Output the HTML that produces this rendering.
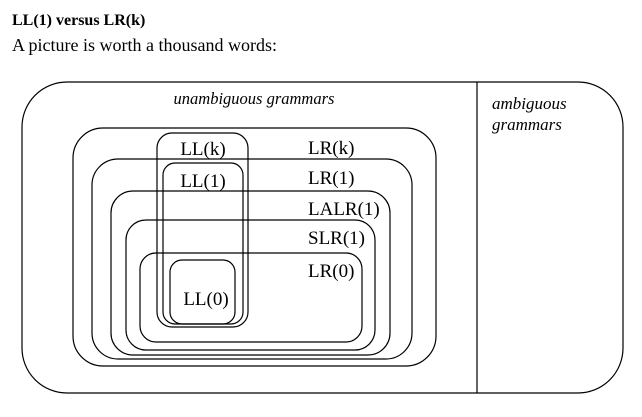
<!DOCTYPE html>
<html><head><meta charset="utf-8"><style>
body{margin:0;background:#fff;width:642px;height:417px;overflow:hidden;font-family:"Liberation Serif",serif;}
</style></head><body>
<svg width="642" height="417" xmlns="http://www.w3.org/2000/svg" style="position:absolute;left:0;top:0">
<text x="12" y="25" font-size="16" font-weight="bold" font-family="Liberation Serif, serif">LL(1) versus LR(k)</text>
<text x="12" y="51" font-size="18" font-family="Liberation Serif, serif">A picture is worth a thousand words:</text>
<g fill="none" stroke="#000" stroke-width="1.2">
<rect x="22" y="82" width="601" height="311" rx="45"/>
<line x1="477" y1="82" x2="477" y2="393"/>
<rect x="73" y="128" width="363" height="238" rx="30"/>
<rect x="92" y="159" width="320" height="200" rx="26"/>
<rect x="111" y="191" width="279" height="164" rx="22"/>
<rect x="126" y="220" width="249" height="130" rx="20"/>
<rect x="140" y="253" width="222" height="89" rx="16"/>
<rect x="157" y="133" width="91" height="194" rx="15"/>
<rect x="163" y="163" width="80" height="161" rx="12"/>
<rect x="170" y="260" width="65" height="64" rx="12"/>
</g>
<g font-family="Liberation Serif, serif" font-size="19">
<text x="203" y="155" text-anchor="middle">LL(k)</text>
<text x="203" y="187" text-anchor="middle">LL(1)</text>
<text x="206" y="305" text-anchor="middle">LL(0)</text>
<text x="308" y="154">LR(k)</text>
<text x="308" y="184">LR(1)</text>
<text x="308" y="215">LALR(1)</text>
<text x="308" y="244">SLR(1)</text>
<text x="308" y="277">LR(0)</text>
</g>
<g font-family="Liberation Serif, serif" font-size="16.5" font-style="italic">
<text x="254" y="104" text-anchor="middle">unambiguous grammars</text>
<text x="492" y="109" font-size="17">ambiguous</text>
<text x="492" y="130" font-size="17">grammars</text>
</g>
</svg>
</body></html>
